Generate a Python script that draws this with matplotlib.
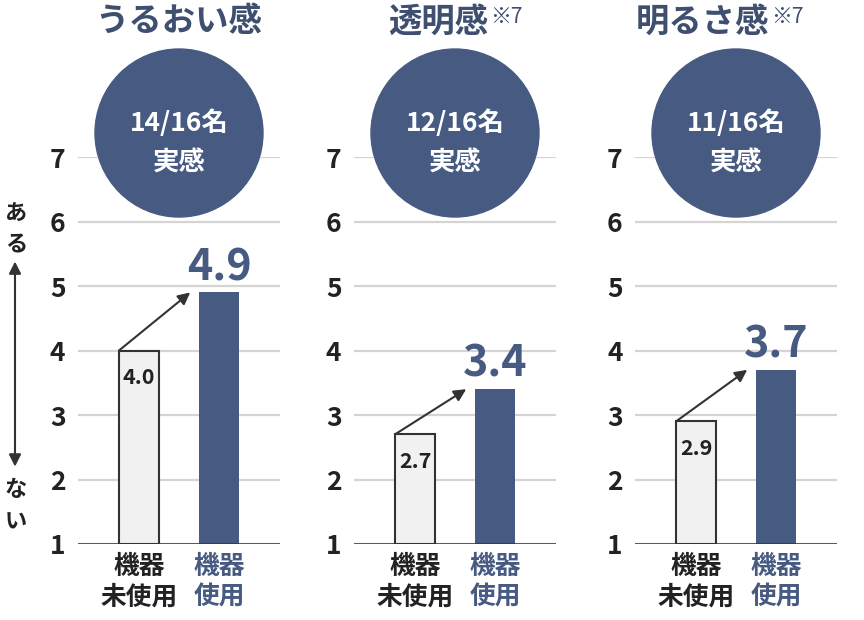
import matplotlib
matplotlib.use('Agg')
import matplotlib.pyplot as plt
import matplotlib.transforms as mtransforms
from matplotlib.patches import Ellipse

plt.rcParams['font.family'] = ['Noto Sans CJK JP', 'DejaVu Sans']

titles = ['うるおい感', '透明感', '明るさ感']
notes = ['', '※7', '※7']
before = [4.0, 2.7, 2.9]
after = [4.9, 3.4, 3.7]
counts = ['14/16名', '12/16名', '11/16名']
cat_before = ['機器', '未使用']
cat_after = ['機器', '使用']
yticks = [1, 2, 3, 4, 5, 6, 7]
side_top = ['あ', 'る']
side_bottom = ['な', 'い']

navy = '#475a82'
title_c = '#3e4f70'

W, H = 864, 620
fig = plt.figure(figsize=(8.64, 6.2), dpi=100)
lefts = [78, 354, 635]
unit_x, unit_y = 80, 64.5

axes = []
for i in range(3):
    ax = fig.add_axes([lefts[i] / W, 76 / H, 202 / W, 387 / H])
    axes.append(ax)
    ax.set_xlim(-0.7625, 1.7625)
    ax.set_ylim(1, 7)
    for s in ax.spines.values():
        s.set_visible(False)
    ax.set_yticks(yticks)
    ax.set_yticklabels([str(t) for t in yticks], fontsize=19, fontweight='bold', color='#222')
    ax.set_xticks([])
    ax.grid(axis='y', color='#d4d4d4', lw=1.6)
    ax.set_axisbelow(True)
    ax.tick_params(length=0, pad=9)
    ax.axhline(1, color='#333', lw=1.8, zorder=4)

    # bars
    ax.bar(0, before[i] - 1, bottom=1, width=0.5, color='#f1f1f1', edgecolor='#333', lw=1.5, zorder=3)
    ax.bar(1, after[i] - 1, bottom=1, width=0.5, color=navy, zorder=3)

    ax.text(0, before[i] - 0.52, f'{before[i]:.1f}', ha='center', va='baseline', fontsize=15.5,
            fontweight='bold', color='#222', zorder=5)
    ax.text(1, after[i] + 0.19, f'{after[i]:.1f}', ha='center', va='baseline', fontsize=31,
            fontweight='bold', color=navy, zorder=5)

    ax.annotate('', xy=(0.64, after[i]), xytext=(-0.25, before[i]),
                arrowprops=dict(arrowstyle='-|>', color='#333', lw=1.5, mutation_scale=18,
                                shrinkA=0, shrinkB=0), zorder=5)

    # circle
    ax.add_patch(Ellipse((0.5, 7.372), width=2 * 84 / unit_x, height=2 * 84 / unit_y,
                         color=navy, clip_on=False, zorder=6))
    ax.text(0.5, 1 + (544 - 123) / unit_y, counts[i], ha='center', va='center', fontsize=19,
            fontweight='bold', color='white', zorder=7)
    ax.text(0.5, 1 + (544 - 163) / unit_y, '実感', ha='center', va='center', fontsize=19,
            fontweight='bold', color='white', zorder=7)

    # category labels
    for k in range(2):
        yy = 1 - (23 + 30 * k) / unit_y
        ax.text(0, yy, cat_before[k], ha='center', va='center', fontsize=18.5,
                fontweight='bold', color='#222')
        ax.text(1, yy, cat_after[k], ha='center', va='center', fontsize=18.5,
                fontweight='bold', color=navy)

    # titles
    cx = (lefts[i] + 101) / W
    if notes[i]:
        fig.text(cx + 33 / W, 1 - 22 / H, titles[i], ha='right', va='center', fontsize=24,
                 fontweight='bold', color=title_c)
        fig.text(cx + 35 / W, 1 - 17 / H, notes[i], ha='left', va='center', fontsize=15,
                 color=title_c)
    else:
        fig.text(cx, 1 - 22 / H, titles[i], ha='center', va='center', fontsize=24,
                 fontweight='bold', color=title_c)

# left side: ある ↕ ない
ax = axes[0]
blend = mtransforms.blended_transform_factory(fig.transFigure, ax.transData)
for k, ch in enumerate(side_top):
    ax.text(16 / W, 1 + (544 - 213 - 31 * k) / unit_y, ch, transform=blend, clip_on=False,
            ha='center', va='center', fontsize=16, fontweight='bold', color='#222')
for k, ch in enumerate(side_bottom):
    ax.text(16 / W, 1 + (544 - 490 - 32 * k) / unit_y, ch, transform=blend, clip_on=False,
            ha='center', va='center', fontsize=16, fontweight='bold', color='#222')
ax.annotate('', xy=(15 / W, 2.2), xycoords=blend, xytext=(15 / W, 5.38), textcoords=blend,
            arrowprops=dict(arrowstyle='<|-|>', color='#333', lw=1.5, mutation_scale=18,
                            shrinkA=0, shrinkB=0))

fig.savefig('out.png', dpi=100)
